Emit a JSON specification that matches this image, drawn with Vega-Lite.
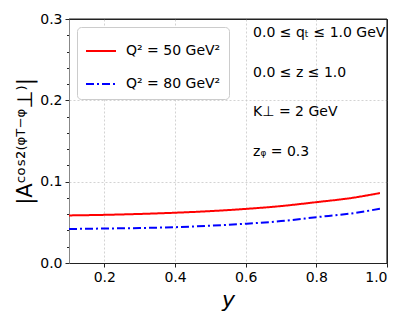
{
  "$schema": "https://vega.github.io/schema/vega-lite/v6.json",
  "width": 318,
  "height": 244,
  "autosize": "none",
  "padding": {"left": 69, "top": 19, "right": 22, "bottom": 64},
  "config": {
    "font": "DejaVu Sans",
    "view": {"stroke": "#222", "strokeWidth": 1},
    "axis": {
      "domain": true,
      "domainColor": "#222",
      "domainWidth": 1,
      "tickColor": "#222",
      "labelColor": "#000",
      "titleColor": "#000",
      "labelFontSize": 14,
      "labelFont": "DejaVu Sans",
      "titleFont": "DejaVu Sans",
      "titleFontWeight": "normal",
      "gridColor": "#c8c8c8",
      "gridDash": [2, 2],
      "gridWidth": 0.8
    }
  },
  "datasets": {
    "curves": [
      {"y": 0.10, "A": 0.0585, "series": "Q² = 50 GeV²"},
      {"y": 0.20, "A": 0.0592, "series": "Q² = 50 GeV²"},
      {"y": 0.30, "A": 0.0603, "series": "Q² = 50 GeV²"},
      {"y": 0.40, "A": 0.0618, "series": "Q² = 50 GeV²"},
      {"y": 0.50, "A": 0.0638, "series": "Q² = 50 GeV²"},
      {"y": 0.60, "A": 0.0665, "series": "Q² = 50 GeV²"},
      {"y": 0.70, "A": 0.0700, "series": "Q² = 50 GeV²"},
      {"y": 0.80, "A": 0.0748, "series": "Q² = 50 GeV²"},
      {"y": 0.90, "A": 0.0800, "series": "Q² = 50 GeV²"},
      {"y": 0.98, "A": 0.0860, "series": "Q² = 50 GeV²"},
      {"y": 0.10, "A": 0.0418, "series": "Q² = 80 GeV²"},
      {"y": 0.20, "A": 0.0424, "series": "Q² = 80 GeV²"},
      {"y": 0.30, "A": 0.0430, "series": "Q² = 80 GeV²"},
      {"y": 0.40, "A": 0.0440, "series": "Q² = 80 GeV²"},
      {"y": 0.50, "A": 0.0458, "series": "Q² = 80 GeV²"},
      {"y": 0.60, "A": 0.0483, "series": "Q² = 80 GeV²"},
      {"y": 0.70, "A": 0.0515, "series": "Q² = 80 GeV²"},
      {"y": 0.80, "A": 0.0563, "series": "Q² = 80 GeV²"},
      {"y": 0.90, "A": 0.0610, "series": "Q² = 80 GeV²"},
      {"y": 0.98, "A": 0.0667, "series": "Q² = 80 GeV²"}
    ],
    "notes": [
      {"y": 0.621, "A": 0.283, "label": "0.0 ≤ qₜ ≤ 1.0 GeV"},
      {"y": 0.621, "A": 0.234, "label": "0.0 ≤ z ≤ 1.0"},
      {"y": 0.621, "A": 0.186, "label": "K⊥ = 2 GeV"},
      {"y": 0.621, "A": 0.137, "label": "zᵩ = 0.3"}
    ],
    "frame": [
      {"y": 0.1, "y_end": 1.0, "A": 0.3, "A_end": 0.3},
      {"y": 1.0, "y_end": 1.0, "A": 0.0, "A_end": 0.3}
    ]
  },
  "encoding": {
    "x": {
      "field": "y", "type": "quantitative",
      "scale": {"domain": [0.1, 1.0], "nice": false, "zero": false},
      "axis": {
        "values": [0.2, 0.4, 0.6, 0.8, 1.0],
        "format": ".1f",
        "tickSize": 4,
        "labelPadding": 3,
        "gridOpacity": {"condition": {"test": "datum.value > 0.99", "value": 0}, "value": 1},
        "title": "y",
        "titleFontSize": 22,
        "titleFontStyle": "italic",
        "titlePadding": 5
      }
    },
    "y": {
      "field": "A", "type": "quantitative",
      "scale": {"domain": [0, 0.3], "nice": false},
      "axis": {
        "values": [0, 0.02, 0.04, 0.06, 0.08, 0.1, 0.12, 0.14, 0.16, 0.18, 0.2, 0.22, 0.24, 0.26, 0.28, 0.3],
        "labelExpr": "abs(datum.value*10 - round(datum.value*10)) < 1e-6 ? format(datum.value, '.1f') : ''",
        "tickSize": {"condition": {"test": "abs(datum.value*10 - round(datum.value*10)) < 1e-6", "value": 4}, "value": 2.5},
        "gridOpacity": {"condition": {"test": "abs(datum.value*10 - round(datum.value*10)) < 1e-6 && datum.value > 0.05 && datum.value < 0.25", "value": 1}, "value": 0},
        "domainColor": "#888",
        "labelPadding": 3,
        "title": "|Aᶜᵒˢ²⁽ᵠᵀ⁻ᵠ⊥⁾|",
        "titleFontSize": 21,
        "titlePadding": 4
      }
    }
  },
  "layer": [
    {
      "data": {"name": "curves"},
      "mark": {"type": "line", "strokeWidth": 2, "interpolate": "monotone"},
      "encoding": {
        "color": {
          "field": "series", "type": "nominal",
          "scale": {"domain": ["Q² = 50 GeV²", "Q² = 80 GeV²"], "range": ["#ff0000", "#0000ff"]},
          "legend": {
            "title": null,
            "orient": "top-left",
            "offset": 8,
            "symbolType": "stroke",
            "symbolSize": 900,
            "symbolStrokeWidth": 2,
            "labelFontSize": 14,
            "labelOffset": 9,
            "rowPadding": 10,
            "padding": 8,
            "cornerRadius": 4,
            "strokeColor": "#cccccc",
            "fillColor": "white"
          }
        },
        "strokeDash": {
          "field": "series", "type": "nominal",
          "scale": {"domain": ["Q² = 50 GeV²", "Q² = 80 GeV²"], "range": [[1, 0], [8, 3, 2, 3]]},
          "legend": null
        }
      }
    },
    {
      "data": {"name": "notes"},
      "mark": {"type": "text", "align": "left", "baseline": "middle", "fontSize": 14, "color": "#000"},
      "encoding": {
        "text": {"field": "label"}
      }
    },
    {
      "data": {"name": "frame"},
      "mark": {"type": "rule", "color": "#222", "strokeWidth": 1.2},
      "encoding": {
        "x2": {"field": "y_end"},
        "y2": {"field": "A_end"}
      }
    }
  ]
}
